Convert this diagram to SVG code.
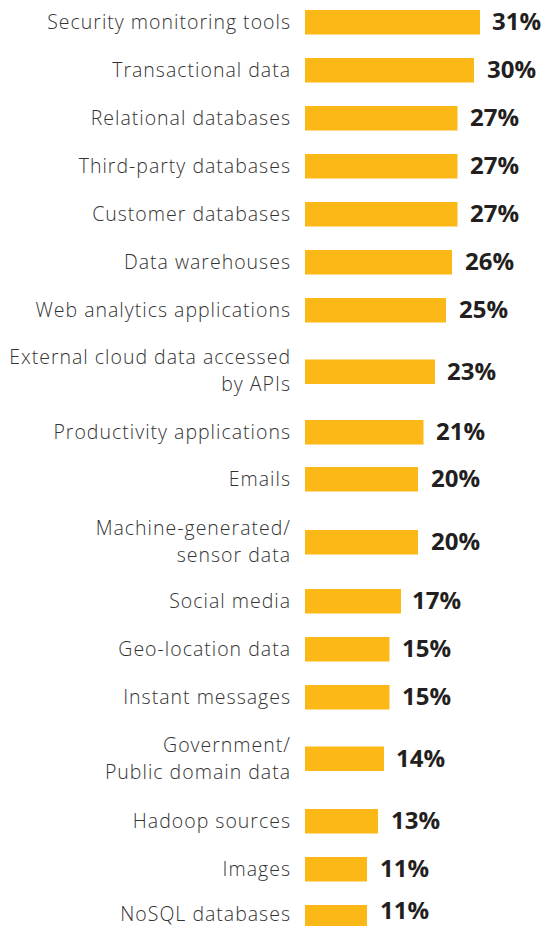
<svg xmlns="http://www.w3.org/2000/svg" width="544" height="926" viewBox="0 0 544 926">
<style>
.bar{fill:#FBB817}
.lbl{font-family:"Open Sans","Liberation Sans",sans-serif;font-size:19.5px;font-weight:300;letter-spacing:1px;fill:#333333;text-anchor:end}
.val{font-family:"Open Sans","Liberation Sans",sans-serif;font-size:24px;font-weight:700;fill:#231f20}
</style>
<rect width="544" height="926" fill="#ffffff"/>
<g id="row1"><rect class="bar" x="305" y="10" width="175" height="24.5"/><text class="lbl" x="291" y="28.5">Security monitoring tools</text><text class="val" x="492" y="30">31%</text></g>
<g id="row2"><rect class="bar" x="305" y="58" width="169" height="24.5"/><text class="lbl" x="291" y="76.5">Transactional data</text><text class="val" x="487" y="78">30%</text></g>
<g id="row3"><rect class="bar" x="305" y="106" width="152.5" height="24.5"/><text class="lbl" x="291" y="124.5">Relational databases</text><text class="val" x="470" y="126">27%</text></g>
<g id="row4"><rect class="bar" x="305" y="154" width="152.5" height="24.5"/><text class="lbl" x="291" y="172.5">Third-party databases</text><text class="val" x="470" y="174">27%</text></g>
<g id="row5"><rect class="bar" x="305" y="202" width="152.5" height="24.5"/><text class="lbl" x="291" y="220.5">Customer databases</text><text class="val" x="470" y="222">27%</text></g>
<g id="row6"><rect class="bar" x="305" y="250" width="147" height="24.5"/><text class="lbl" x="291" y="268.5">Data warehouses</text><text class="val" x="465" y="270">26%</text></g>
<g id="row7"><rect class="bar" x="305" y="298" width="141" height="24.5"/><text class="lbl" x="291" y="316.5">Web analytics applications</text><text class="val" x="459" y="318">25%</text></g>
<g id="row8"><rect class="bar" x="305" y="359.5" width="130" height="24.5"/><text class="lbl" x="291" y="364">External cloud data accessed</text><text class="lbl" x="291" y="391">by APIs</text><text class="val" x="447" y="379.5">23%</text></g>
<g id="row9"><rect class="bar" x="305" y="420" width="118.5" height="24.5"/><text class="lbl" x="291" y="438.5">Productivity applications</text><text class="val" x="436" y="440">21%</text></g>
<g id="row10"><rect class="bar" x="305" y="467" width="113" height="24.5"/><text class="lbl" x="291" y="485.5">Emails</text><text class="val" x="431" y="487">20%</text></g>
<g id="row11"><rect class="bar" x="305" y="530" width="113" height="24.5"/><text class="lbl" x="291" y="535">Machine-generated/</text><text class="lbl" x="291" y="562">sensor data</text><text class="val" x="431" y="550">20%</text></g>
<g id="row12"><rect class="bar" x="305" y="589" width="96" height="24.5"/><text class="lbl" x="291" y="607.5">Social media</text><text class="val" x="412" y="609">17%</text></g>
<g id="row13"><rect class="bar" x="305" y="637" width="84.5" height="24.5"/><text class="lbl" x="291" y="655.5">Geo-location data</text><text class="val" x="402" y="657">15%</text></g>
<g id="row14"><rect class="bar" x="305" y="685" width="84.5" height="24.5"/><text class="lbl" x="291" y="703.5">Instant messages</text><text class="val" x="402" y="705">15%</text></g>
<g id="row15"><rect class="bar" x="305" y="746.5" width="79" height="24.5"/><text class="lbl" x="291" y="752">Government/</text><text class="lbl" x="291" y="779">Public domain data</text><text class="val" x="396" y="766.5">14%</text></g>
<g id="row16"><rect class="bar" x="305" y="809" width="73" height="24.5"/><text class="lbl" x="291" y="827.5">Hadoop sources</text><text class="val" x="391" y="829">13%</text></g>
<g id="row17"><rect class="bar" x="305" y="857" width="62" height="24.5"/><text class="lbl" x="291" y="875.5">Images</text><text class="val" x="380" y="877">11%</text></g>
<g id="row18"><rect class="bar" x="305" y="905" width="62" height="24.5"/><text class="lbl" x="291" y="921">NoSQL databases</text><text class="val" x="380" y="919">11%</text></g>
<g id="connectors"></g>
</svg>
